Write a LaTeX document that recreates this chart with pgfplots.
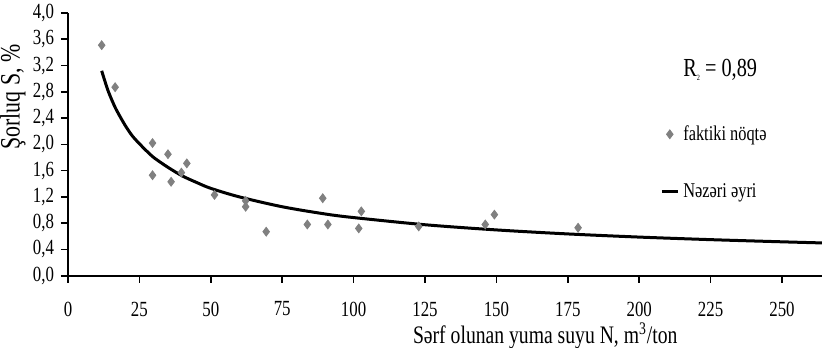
\documentclass[border=0pt]{standalone}
\usepackage{fontspec}
\setmainfont{Liberation Serif}[FakeStretch=0.78]
\usepackage{pgfplots}
\pgfplotsset{compat=1.18}
\pgfplotsset{
  legmark/.style={legend image code/.code={\draw[##1] plot coordinates {(4pt,0pt)};}},
  legline/.style={legend image code/.code={\draw[##1] (0pt,0pt) -- (8pt,0pt);}},
}
\begin{document}
\begin{tikzpicture}
\useasboundingbox (-34pt,-35.65pt) rectangle (377pt,137.85pt);
\begin{axis}[
  scale only axis,
  width=377pt, height=131.35pt,
  xmin=0, xmax=264, ymin=0, ymax=4,
  axis lines=left,
  axis line style={-, line width=0.9pt},
  xtick={0,25,...,250},
  ytick={0,0.4,...,4.01},
  major tick length=3.5pt,
  tick style={line width=0.8pt, black},
  tick align=outside,
  /pgf/number format/assume math mode=true,
  yticklabel style={/pgf/number format/.cd, fixed, fixed zerofill, precision=1, use comma},
  xticklabel style={yshift=-6pt},
  ticklabel style={font=\fontsize{10.8}{12}\selectfont},
  xlabel={Sərf olunan yuma suyu N, m\textsuperscript{3}/ton},
  ylabel={Şorluq S, \%},
  xlabel style={at={(axis description cs:0.633,-0.228)}, anchor=center, font=\fontsize{12.6}{15}\selectfont},
  ylabel style={at={(axis description cs:-0.073,0.68)}, anchor=center, font=\fontsize{14}{16}\selectfont},
  legend style={draw=none, fill=none, at={(axis description cs:0.785,0.43)}, anchor=west,
    inner sep=0pt, row sep=16pt, font=\fontsize{10.5}{12}\selectfont},
  legend cell align=left,
  clip=false,
]
\addplot[only marks, mark=diamond*, mark size=2.2pt, color={rgb,255:red,128;green,128;blue,128}, legmark]
coordinates {
(11.8,3.51) (16.5,2.87) (29.6,2.02) (35.0,1.85) (41.6,1.71) (29.6,1.53)
(36.1,1.43) (39.7,1.57) (51.3,1.23) (62.2,1.05) (62.2,1.14) (69.4,0.67)
(83.8,0.78) (89.2,1.18) (91.0,0.78) (101.8,0.72) (102.7,0.98) (122.8,0.75)
(146.1,0.78) (149.3,0.93) (178.6,0.73)
};
\addlegendentry{faktiki nöqtə}
\addplot[black, line width=1.5pt, smooth, no marks, legline]
coordinates {
(11.8,3.12) (12.5,3.02) (14,2.82) (15.5,2.66) (17,2.52) (20,2.29) (22.5,2.13)
(25,2.01) (27.5,1.90) (30,1.80) (35,1.65) (40,1.52) (45,1.42) (50,1.33)
(60,1.20) (75,1.05) (90,0.94) (100,0.885) (125,0.776)
(150,0.697) (175,0.636) (200,0.588) (225,0.549) (250,0.516) (264,0.499)
};
\addlegendentry{Nəzəri əyri}
\node[font=\fontsize{13}{15}\selectfont, anchor=center] at (axis description cs:0.865,0.783)
  {R\raisebox{-0.3ex}{\fontsize{4}{4}\selectfont 2} = 0,89};
\end{axis}
\end{tikzpicture}
\end{document}
